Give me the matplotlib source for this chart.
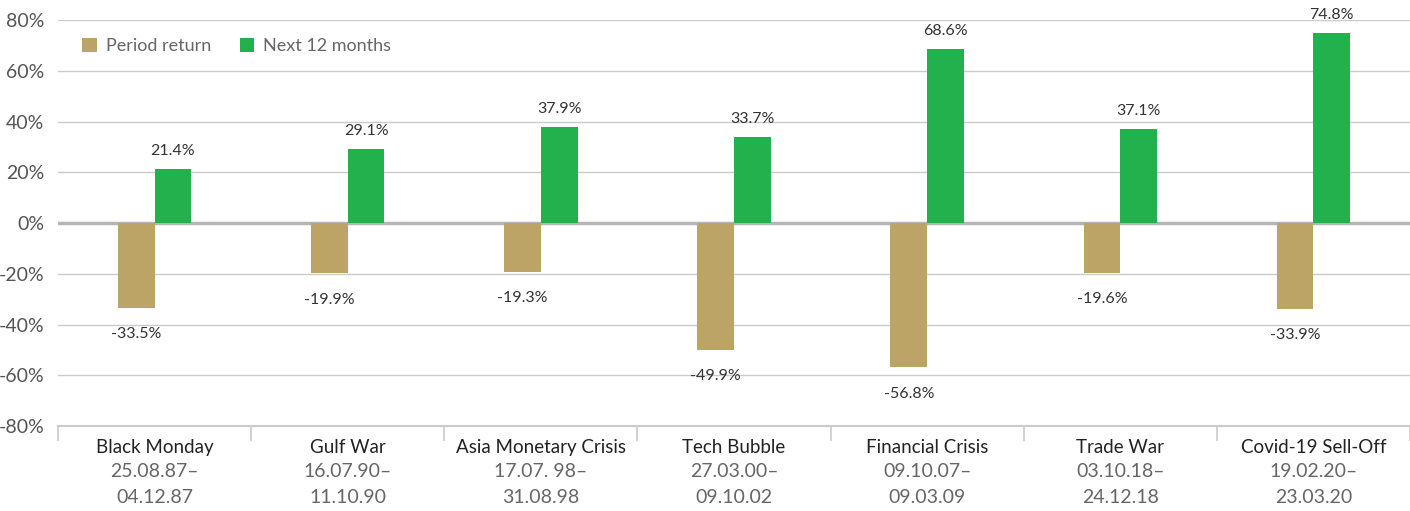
import numpy as np
import matplotlib.pyplot as plt
from matplotlib.ticker import FixedLocator

# dados do gráfico
eventos = ['Black Monday', 'Gulf War', 'Asia Monetary Crisis', 'Tech Bubble',
           'Financial Crisis', 'Trade War', 'Covid-19 Sell-Off']
inicio = ['25.08.87–', '16.07.90–', '17.07. 98–', '27.03.00–', '09.10.07–', '03.10.18–', '19.02.20–']
fim = ['04.12.87', '11.10.90', '31.08.98', '09.10.02', '09.03.09', '24.12.18', '23.03.20']
retorno_periodo = [-33.5, -19.9, -19.3, -49.9, -56.8, -19.6, -33.9]
proximos_12m = [21.4, 29.1, 37.9, 33.7, 68.6, 37.1, 74.8]
y_ticks = [-80, -60, -40, -20, 0, 20, 40, 60, 80]

plt.rcParams['font.family'] = ['Lato', 'DejaVu Sans']

cor_ouro = '#BBA466'
cor_verde = '#22B14C'
cor_grade = '#CBCBCB'

fig = plt.figure(figsize=(14.1, 5.11), dpi=100)
ax = fig.add_axes([58 / 1410, 1 - 426 / 511, 1 - 58 / 1410, (426 - 20) / 511])

x = np.arange(len(eventos))
largura = 0.19

b1 = ax.bar(x - largura / 2, retorno_periodo, largura, color=cor_ouro, label='Period return', zorder=3)
b2 = ax.bar(x + largura / 2, proximos_12m, largura, color=cor_verde, label='Next 12 months', zorder=3)

# rótulos dos valores
for rect, v in zip(b1, retorno_periodo):
    ax.annotate(f'{v:.1f}%', (rect.get_x() + rect.get_width() / 2, v),
                xytext=(0, -14), textcoords='offset points', ha='center', va='top',
                fontsize=11.5, color='#333333')
for rect, v in zip(b2, proximos_12m):
    ax.annotate(f'{v:.1f}%', (rect.get_x() + rect.get_width() / 2, v),
                xytext=(0, 8), textcoords='offset points', ha='center', va='bottom',
                fontsize=11.5, color='#333333')

ax.set_xlim(-0.5, len(eventos) - 0.5)
ax.set_ylim(-80, 80)
ax.set_yticks(y_ticks)
ax.set_yticklabels([f'{t}%' for t in y_ticks], fontsize=14, color='#555555')
ax.tick_params(axis='y', length=0, pad=10)

# grade
for t in y_ticks:
    if t == 0:
        ax.axhline(t, color='#B5B5B5', lw=2.5, zorder=2)
    elif t != -80:
        ax.axhline(t, color=cor_grade, lw=1, zorder=1)

for s in ['top', 'right', 'left']:
    ax.spines[s].set_visible(False)
ax.spines['bottom'].set_color(cor_grade)
ax.spines['bottom'].set_linewidth(1.5)

# separadores entre categorias
ax.set_xticks([])
ax.xaxis.set_minor_locator(FixedLocator(np.arange(-0.5, len(eventos) - 0.4, 1)))
ax.tick_params(axis='x', which='minor', length=11, width=1.2, color=cor_grade, direction='out')

# rótulos das categorias
trans = ax.get_xaxis_transform()
for i in range(len(eventos)):
    ax.text(i, -0.054, eventos[i], transform=trans, ha='center', va='center',
            fontsize=13.5, color='#222222')
    ax.text(i, -0.113, inicio[i], transform=trans, ha='center', va='center',
            fontsize=14, color='#666666')
    ax.text(i, -0.175, fim[i], transform=trans, ha='center', va='center',
            fontsize=14, color='#666666')

leg = ax.legend(loc='upper left', bbox_to_anchor=(0.006, 0.995), ncol=2, frameon=False,
                fontsize=13, handlelength=0.8, handleheight=0.8, columnspacing=1.6,
                handletextpad=0.5)
for t in leg.get_texts():
    t.set_color('#666666')

fig.savefig('out.png', dpi=100)
